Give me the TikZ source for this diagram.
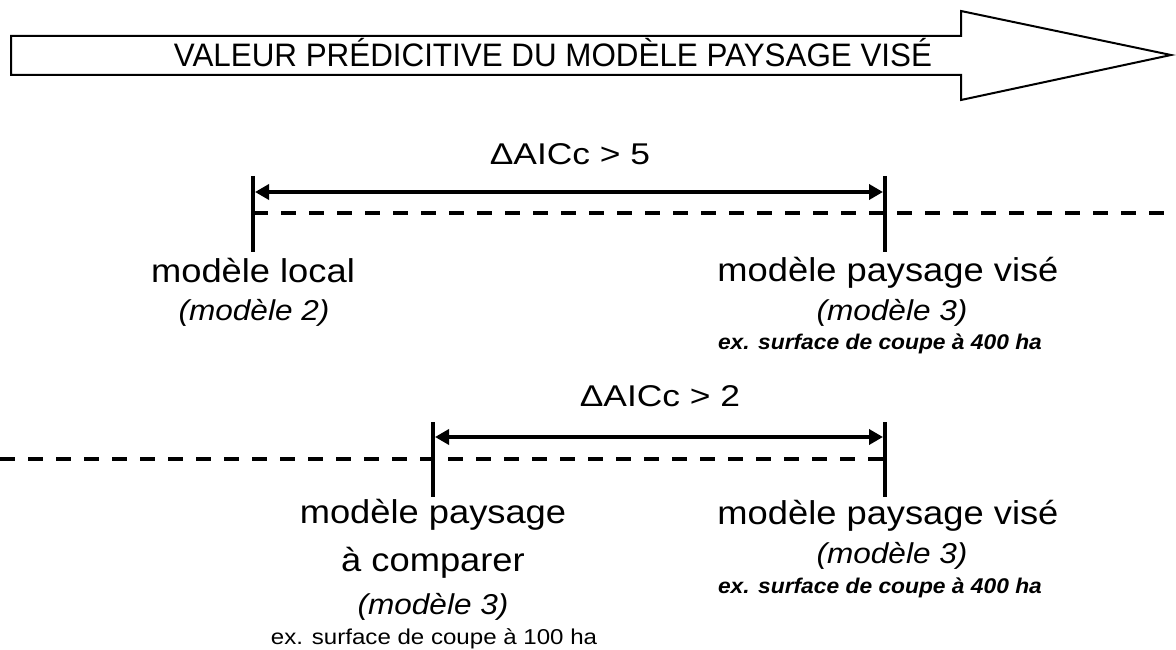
\documentclass[tikz,border=0pt]{standalone}
\usepackage{fontspec}
\setmainfont{Liberation Sans}
\newfontfamily\lab[FakeStretch=1.1]{Liberation Sans}
\newfontfamily\labsmall[FakeStretch=1.12]{Liberation Sans}
\newfontfamily\labbold[FakeStretch=1.07]{Liberation Sans}
\newfontfamily\deltafont[FakeStretch=1.18]{Liberation Sans}
\newfontfamily\ttlfont[FakeStretch=0.965]{Liberation Sans}
\usetikzlibrary{arrows.meta}
\begin{document}
\begin{tikzpicture}[x=1pt,y=-1pt,
  big/.style={anchor=base, inner sep=0pt, font=\lab\fontsize{33}{33}\selectfont},
  mid/.style={anchor=base, inner sep=0pt, font=\lab\itshape\fontsize{28.7}{28.7}\selectfont},
  small/.style={anchor=base, inner sep=0pt, font=\labsmall\fontsize{21.5}{21.5}\selectfont},
  smallit/.style={anchor=base, inner sep=0pt, font=\labbold\bfseries\itshape\fontsize{21.3}{21.3}\selectfont},
  delta/.style={anchor=base, inner sep=0pt, font=\deltafont\fontsize{30}{30}\selectfont},
  title/.style={anchor=base, inner sep=0pt, font=\ttlfont\fontsize{32.5}{32.5}\selectfont},
  tickline/.style={line width=4pt},
  dimline/.style={line width=4pt, {Triangle[length=14pt,width=15pt]}-{Triangle[length=14pt,width=15pt]}},
  guide/.style={line width=3.5pt, dash pattern=on 15pt off 13pt},
  bigarrow/.style={line width=2pt, line join=miter, fill=white}
]
\useasboundingbox (0,0) rectangle (1176,650);

% big arrow
\draw[bigarrow] (11,36) -- (961,36) -- (961,11) -- (1171,55) -- (961,100) -- (961,75) -- (11,75) -- cycle;
\node[title] (ttl) at (553,67) {VALEUR PRÉDICITIVE DU MODÈLE PAYSAGE VISÉ};

% top comparison
\coordinate (t1a) at (253,176); \coordinate (t1b) at (253,252);
\coordinate (t2a) at (885,176); \coordinate (t2b) at (885,252);
\draw[tickline] (t1a) -- (t1b);
\draw[tickline] (t2a) -- (t2b);
\coordinate (d1a) at (255,192); \coordinate (d1b) at (883,192);
\draw[dimline] (d1a) -- (d1b);
\coordinate (g1a) at (253,213); \coordinate (g1b) at (1176,213);
\draw[guide] (g1a) -- (g1b);
\node[delta] (delta5) at (570,165) {ΔAICc > 5};

\node[big] (loc) at (253,282) {modèle local};
\node[mid] (loc2) at (254,320) {(modèle 2)};
\node[big] (vis1) at (888,281) {modèle paysage visé};
\node[mid] (vis1b) at (892,320) {(modèle 3)};
\node[smallit] (vis1c) at (880,349) {ex. surface de coupe à 400 ha};

% bottom comparison
\coordinate (t3a) at (433,422); \coordinate (t3b) at (433,497);
\coordinate (t4a) at (885,422); \coordinate (t4b) at (885,497);
\draw[tickline] (t3a) -- (t3b);
\draw[tickline] (t4a) -- (t4b);
\coordinate (d2a) at (435,437); \coordinate (d2b) at (883,437);
\draw[dimline] (d2a) -- (d2b);
\coordinate (g2a) at (0,459); \coordinate (g2b) at (885,459);
\draw[guide] (g2a) -- (g2b);
\node[delta] (delta2) at (660,406) {ΔAICc > 2};

\node[big] (cmp1) at (433,523) {modèle paysage};
\node[big] (cmp2) at (433,571) {à comparer};
\node[mid] (cmp3) at (433,614) {(modèle 3)};
\node[small] (cmp4) at (434,644) {ex. surface de coupe à 100 ha};
\node[big] (vis2) at (888,524) {modèle paysage visé};
\node[mid] (vis2b) at (892,563) {(modèle 3)};
\node[smallit] (vis2c) at (880,593) {ex. surface de coupe à 400 ha};
\end{tikzpicture}
\end{document}
